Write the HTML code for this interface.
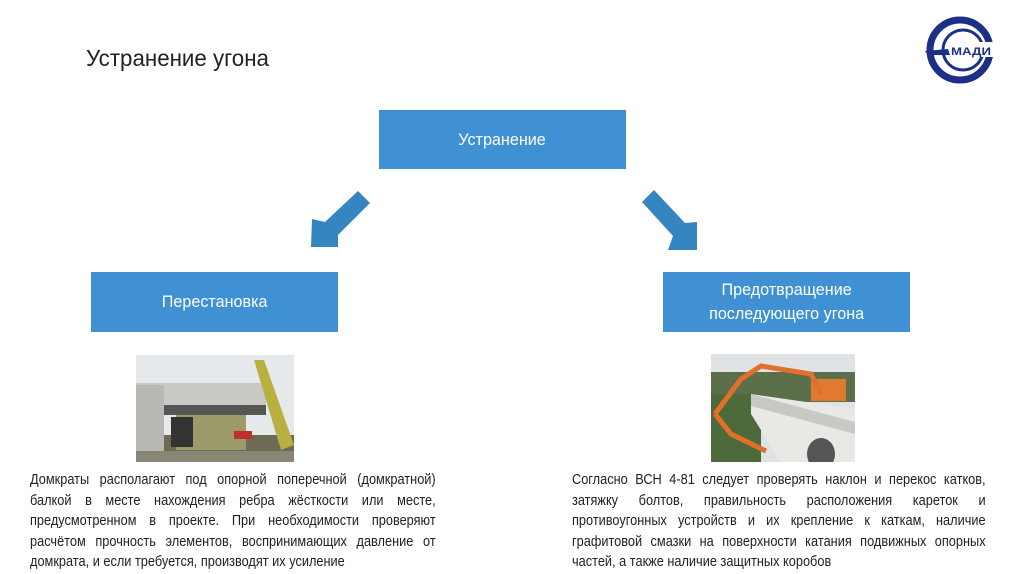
<!DOCTYPE html>
<html><head><meta charset="utf-8"><style>
body{margin:0;width:1024px;height:574px;background:#fff;position:relative;overflow:hidden;font-family:"Liberation Sans",sans-serif;}
.a{position:absolute}
.box{position:absolute;background:#3f91d3;color:#fff;display:flex;align-items:center;justify-content:center;text-align:center;font-size:17px;line-height:24px}
.box div{transform:scaleX(0.95);white-space:nowrap}
.p{position:absolute;font-size:14.5px;line-height:20.6px;color:#222;transform:scaleX(0.88);transform-origin:0 0}
.p span{display:block;white-space:nowrap;text-align:justify;text-align-last:justify}
.p span.l{text-align-last:left}
</style></head><body>
<div class="a" style="left:86px;top:45px;font-size:23px;color:#222;transform:scaleX(0.97);transform-origin:0 0;white-space:nowrap">Устранение угона</div>
<svg class="a" style="left:920px;top:15px" width="80" height="70" viewBox="0 0 80 70">
<circle cx="40" cy="35" r="30" fill="none" stroke="#1c2f86" stroke-width="7"/>
<circle cx="43" cy="35" r="20" fill="none" stroke="#1c2f86" stroke-width="3"/>
<rect x="28" y="27" width="50" height="15" fill="#fff"/>
<path d="M5 36 L28 34 L30 40 L8 40Z" fill="#1c2f86"/>
<text x="31" y="40" font-family="Liberation Sans" font-weight="bold" font-size="11" fill="#1c2f86" textLength="40" lengthAdjust="spacingAndGlyphs">МАДИ</text>
</svg>
<div class="box" style="left:379px;top:110px;width:247px;height:59px"><div>Устранение</div></div>
<div class="box" style="left:91px;top:272px;width:247px;height:60px"><div>Перестановка</div></div>
<div class="box" style="left:663px;top:272px;width:247px;height:60px"><div>Предотвращение<br>последующего угона</div></div>
<svg class="a" style="left:0;top:0" width="1024" height="574">
<polygon points="358,191 370,203 338,235 338,247 311,247 312,219 325,222" fill="#3586c0"/>
<polygon points="654,190 642,202 673,236 668,250 697,250 697,222 685,223" fill="#3586c0"/>
</svg>
<svg class="a" style="left:136px;top:355px" width="158" height="107">
<rect width="158" height="107" fill="#e6e9ec"/>
<rect x="0" y="80" width="158" height="27" fill="#6f6a55"/>
<rect x="40" y="55" width="70" height="40" fill="#9a9a6a"/>
<rect x="0" y="28" width="130" height="28" fill="#c8c8c4"/>
<rect x="0" y="50" width="130" height="10" fill="#555"/>
<rect x="0" y="30" width="28" height="70" fill="#b8b8b4"/>
<rect x="35" y="62" width="22" height="30" fill="#333"/>
<polygon points="118,5 128,5 158,90 145,95" fill="#b8b040"/>
<rect x="98" y="76" width="18" height="8" fill="#c0302a"/>
<rect x="0" y="96" width="158" height="11" fill="#8a8676"/>
</svg>
<svg class="a" style="left:711px;top:354px" width="144" height="108">
<rect width="144" height="108" fill="#dfe3e6"/>
<rect x="0" y="18" width="144" height="30" fill="#5b6f4a"/>
<rect x="0" y="40" width="50" height="68" fill="#4c6a3a"/>
<polygon points="40,40 144,55 144,108 70,108 40,60" fill="#e8e8e4"/>
<polygon points="40,40 144,68 144,80 40,52" fill="#c8c8c4"/>
<rect x="100" y="25" width="35" height="22" fill="#e07a30"/>
<polyline points="4,60 30,25 50,12 100,20 110,40" fill="none" stroke="#e0702a" stroke-width="5"/>
<polyline points="4,60 20,80 55,97" fill="none" stroke="#e0702a" stroke-width="5"/>
<ellipse cx="110" cy="100" rx="14" ry="16" fill="#555"/>
</svg>
<div class="p" style="left:30px;top:470px;width:461px">
<span>Домкраты располагают под опорной поперечной (домкратной)</span>
<span>балкой в месте нахождения ребра жёсткости или месте,</span>
<span>предусмотренном в проекте. При необходимости проверяют</span>
<span>расчётом прочность элементов, воспринимающих давление от</span>
<span class="l">домкрата, и если требуется, производят их усиление</span>
</div>
<div class="p" style="left:572px;top:470px;width:470px">
<span>Согласно ВСН 4-81 следует проверять наклон и перекос катков,</span>
<span>затяжку болтов, правильность расположения кареток и</span>
<span>противоугонных устройств и их крепление к каткам, наличие</span>
<span>графитовой смазки на поверхности катания подвижных опорных</span>
<span class="l">частей, а также наличие защитных коробов</span>
</div>
</body></html>
